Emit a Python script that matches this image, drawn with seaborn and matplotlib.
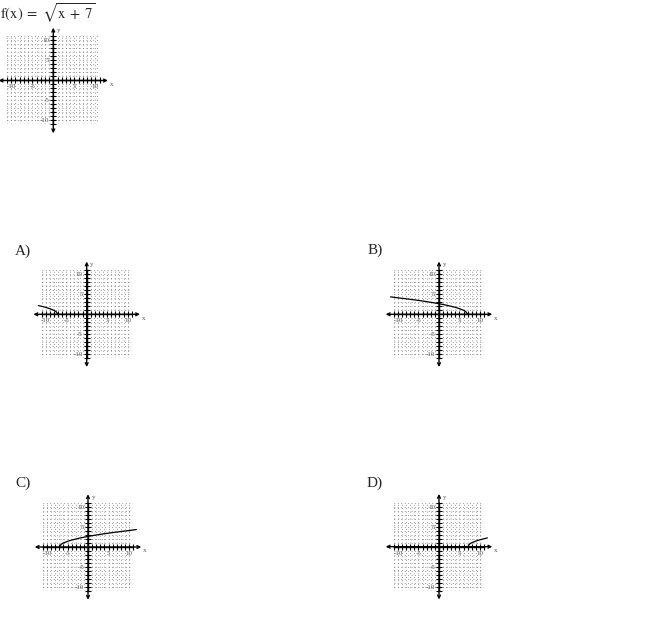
import matplotlib
matplotlib.use("Agg")
import matplotlib.pyplot as plt
import seaborn as sns
import pandas as pd

# ------------------------------
# Data (read off the worksheet)
# ------------------------------
title = r"$\mathrm{f(x)}\;=\;\sqrt{\mathrm{x}\;+\;7}$"
choice_labels = ["A)", "B)", "C)", "D)"]

a_x = [-11.8, -11, -10, -9, -8, -7.5, -7]
a_y = [2.19, 2.0, 1.73, 1.41, 1.0, 0.71, 0]

b_x = [-11.8, -10, -8, -6, -4, -2, 0, 2, 4, 5, 6, 6.5, 7]
b_y = [4.36, 4.12, 3.87, 3.61, 3.32, 3.0, 2.65, 2.24, 1.73, 1.41, 1.0, 0.71, 0]

c_x = [-7, -6.5, -6, -5, -4, -2, 0, 2, 4, 6, 8, 10, 11.8]
c_y = [0, 0.71, 1.0, 1.41, 1.73, 2.24, 2.65, 3.0, 3.32, 3.61, 3.87, 4.12, 4.36]

d_x = [7, 7.5, 8, 9, 10, 11, 11.8]
d_y = [0, 0.71, 1.0, 1.41, 1.73, 2.0, 2.19]

tick_values = list(range(-11, 12))
tick_labels = {-10: "-10", -5: "-5", 5: "5", 10: "10"}

sns.set_style("white")
plt.rcParams["font.family"] = ["Liberation Serif", "DejaVu Serif"]
plt.rcParams["mathtext.fontset"] = "stix"

W, H = 649, 617
fig = plt.figure(figsize=(W / 100, H / 100), dpi=100)


def make_grid(cx, cy, sx, sy):
    # cx, cy = pixel position of the origin, sx, sy = pixels per unit
    left = (cx - 11 * sx) / W
    bottom = 1 - (cy + 11 * sy) / H
    ax = fig.add_axes([left, bottom, 22 * sx / W, 22 * sy / H])
    ax.set_xlim(-11, 11)
    ax.set_ylim(-11, 11)
    ax.set_facecolor("none")

    # dotted grid
    for v in tick_values:
        if v == 0:
            continue
        ax.axvline(v, color="#808080", lw=0.75, ls=(0, (0.7, 2.6)), zorder=0)
        ax.axhline(v, color="#808080", lw=0.75, ls=(0, (0.7, 2.6)), zorder=0)

    ax.spines["top"].set_visible(False)
    ax.spines["right"].set_visible(False)
    ax.spines["left"].set_position("zero")
    ax.spines["bottom"].set_position("zero")
    for s in ["left", "bottom"]:
        ax.spines[s].set_color("black")
        ax.spines[s].set_linewidth(1.0)

    ax.set_xticks(tick_values)
    ax.set_yticks(tick_values)
    ax.set_xticklabels([tick_labels.get(v, "") for v in tick_values])
    ax.set_yticklabels([tick_labels.get(v, "") for v in tick_values])
    ax.tick_params(direction="inout", length=4, width=0.8, color="black",
                   labelsize=5, labelcolor="#555555", pad=0.8,
                   bottom=True, left=True)

    arrow = dict(arrowstyle="<->", lw=1.0, color="black", mutation_scale=5,
                 shrinkA=0, shrinkB=0)
    ax.annotate("", xy=(13, 0), xytext=(-13, 0), arrowprops=arrow,
                annotation_clip=False)
    ax.annotate("", xy=(0, 13.2), xytext=(0, -13.2), arrowprops=arrow,
                annotation_clip=False)
    ax.text(13.4, -1.0, "x", fontsize=5, color="#555555", ha="left", va="center")
    ax.text(0.9, 12.4, "y", fontsize=5, color="#555555", ha="left", va="center")
    ax.set_xlabel("")
    ax.set_ylabel("")
    return ax


def draw_curve(ax, xs, ys):
    df = pd.DataFrame({"x": xs, "y": ys})
    sns.lineplot(data=df, x="x", y="y", ax=ax, color="black", lw=0.9,
                 sort=False, estimator=None)
    ax.lines[-1].set_clip_on(False)
    ax.set_xlabel("")
    ax.set_ylabel("")


# Question
fig.text(0 / W, 1 - 13 / H, title, fontsize=10.5, ha="left", va="center")
make_grid(53.3, 80.5, 4.2, 4.0)

# Answer choices
choices = [
    (a_x, a_y, 86.7, 314.3, 15, 251),
    (b_x, b_y, 439, 314.3, 368, 250),
    (c_x, c_y, 88, 547, 15, 483),
    (d_x, d_y, 439, 546.7, 367, 483),
]
for label, (xs, ys, cx, cy, lx, ly) in zip(choice_labels, choices):
    ax = make_grid(cx, cy, 4.1, 4.0)
    draw_curve(ax, xs, ys)
    fig.text(lx / W, 1 - ly / H, label, fontsize=11, ha="left", va="center")

plt.savefig("out.png", dpi=100)
